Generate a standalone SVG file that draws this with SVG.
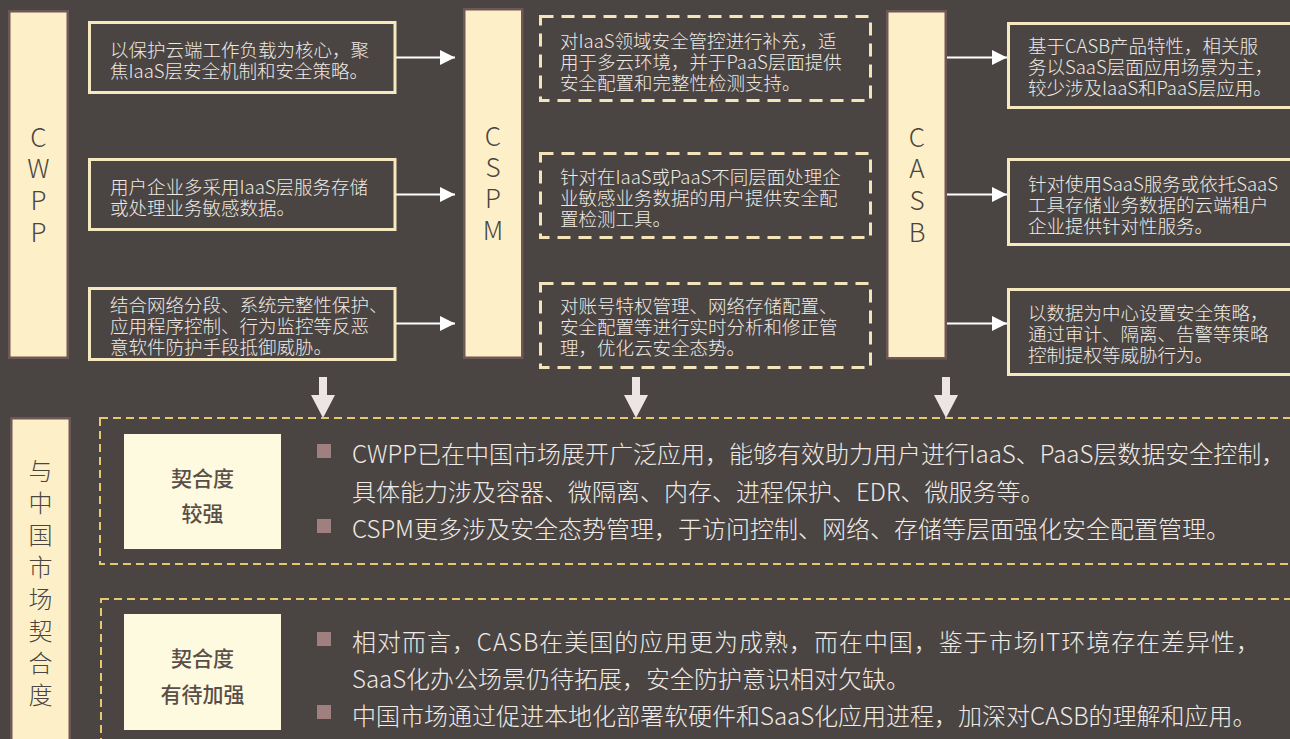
<svg xmlns="http://www.w3.org/2000/svg" width="1290" height="739" viewBox="0 0 1290 739">
<defs>
<style>
.bar{fill:#fdf0c9;stroke:#6f5757;stroke-width:2.5}
.box{fill:none;stroke:#f7e9bf;stroke-width:3}
.dbox{fill:none;stroke:#f3e5b9;stroke-width:3;stroke-dasharray:13 8}
.ybox{fill:none;stroke:#e8c86f;stroke-width:2;stroke-dasharray:8 5}
.cream{fill:#fefadf}
.t{font-family:"Noto Sans CJK SC","Noto Sans",sans-serif;font-size:18.5px;font-weight:300;fill:#efeae4;dominant-baseline:central}
.b{font-family:"Noto Sans CJK SC","Noto Sans",sans-serif;font-size:24px;font-weight:300;fill:#efeae5;dominant-baseline:central}
.v{font-family:"Noto Sans CJK SC","Noto Sans",sans-serif;font-size:26px;font-weight:300;fill:#4a4543;text-anchor:middle}
.vc{font-family:"Noto Sans CJK SC",sans-serif;font-size:24px;font-weight:300;fill:#4a4543;text-anchor:middle;dominant-baseline:central}
.k{font-family:"Noto Sans CJK SC",sans-serif;font-size:21px;font-weight:500;fill:#5a4e49;text-anchor:middle;dominant-baseline:central}
.bul{fill:#a07f7f}
.arr{stroke:#ffffff;stroke-width:2;fill:none;marker-end:url(#ah)}
.down{fill:#ede4e4}
</style>
<marker id="ah" markerUnits="userSpaceOnUse" markerWidth="16" markerHeight="16" refX="15" refY="7.5" orient="auto">
<path d="M0,0 L15,7.5 L0,15 Z" fill="#ffffff"/>
</marker>
</defs>
<rect x="0" y="0" width="1290" height="739" fill="#4a4543"/>

<g id="connectors">
<path class="arr" d="M396,57.5 H455"/>
<path class="arr" d="M396,194.5 H455"/>
<path class="arr" d="M396,323.5 H455"/>
<path class="arr" d="M947,57.5 H1007"/>
<path class="arr" d="M947,194.5 H1007"/>
<path class="arr" d="M947,323.5 H1007"/>
<polygon class="down" points="319,377 327,377 327,395 335,395 323,418 311,395 319,395"/>
<polygon class="down" points="632,377 640,377 640,395 648,395 636,418 624,395 632,395"/>
<polygon class="down" points="942,377 950,377 950,395 958,395 946,418 934,395 942,395"/>
</g>

<g id="cwpp">
<rect class="bar" x="9.25" y="11.25" width="58.5" height="346.5"/>
<text class="v"><tspan x="38.5" y="147">C</tspan><tspan x="38.5" y="178">W</tspan><tspan x="38.5" y="210">P</tspan><tspan x="38.5" y="242">P</tspan></text>
</g>
<g id="cwpp-1">
<rect class="box" x="89.5" y="22.5" width="305.5" height="70"/>
<text class="t"><tspan x="110" y="48.5">以保护云端工作负载为核心，聚</tspan><tspan x="110" y="69.5">焦IaaS层安全机制和安全策略。</tspan></text>
</g>
<g id="cwpp-2">
<rect class="box" x="89.5" y="159.5" width="305.5" height="70"/>
<text class="t"><tspan x="110" y="186">用户企业多采用IaaS层服务存储</tspan><tspan x="110" y="207">或处理业务敏感数据。</tspan></text>
</g>
<g id="cwpp-3">
<rect class="box" x="89.5" y="288.5" width="305.5" height="71"/>
<text class="t"><tspan x="110" y="304">结合网络分段、系统完整性保护、</tspan><tspan x="110" y="325">应用程序控制、行为监控等反恶</tspan><tspan x="110" y="346">意软件防护手段抵御威胁。</tspan></text>
</g>

<g id="cspm">
<rect class="bar" x="464.25" y="9.25" width="58" height="348.5"/>
<text class="v"><tspan x="493" y="146">C</tspan><tspan x="493" y="177">S</tspan><tspan x="493" y="208">P</tspan><tspan x="493" y="240">M</tspan></text>
</g>
<g id="cspm-1">
<rect class="dbox" x="540.5" y="16.5" width="330" height="84"/>
<text class="t"><tspan x="560" y="39.5">对IaaS领域安全管控进行补充，适</tspan><tspan x="560" y="60.5">用于多云环境，并于PaaS层面提供</tspan><tspan x="560" y="81.5">安全配置和完整性检测支持。</tspan></text>
</g>
<g id="cspm-2">
<rect class="dbox" x="540.5" y="153.5" width="330" height="84"/>
<text class="t"><tspan x="560" y="175.5">针对在IaaS或PaaS不同层面处理企</tspan><tspan x="560" y="196.5">业敏感业务数据的用户提供安全配</tspan><tspan x="560" y="217.5">置检测工具。</tspan></text>
</g>
<g id="cspm-3">
<rect class="dbox" x="540.5" y="283.5" width="330" height="84"/>
<text class="t"><tspan x="560" y="305">对账号特权管理、网络存储配置、</tspan><tspan x="560" y="326">安全配置等进行实时分析和修正管</tspan><tspan x="560" y="347">理，优化云安全态势。</tspan></text>
</g>

<g id="casb">
<rect class="bar" x="887.25" y="11.25" width="58.5" height="347"/>
<text class="v"><tspan x="917" y="147">C</tspan><tspan x="917" y="178">A</tspan><tspan x="917" y="210">S</tspan><tspan x="917" y="242">B</tspan></text>
</g>
<g id="casb-1">
<rect class="box" x="1008.5" y="23.5" width="300" height="84"/>
<text class="t"><tspan x="1028" y="45">基于CASB产品特性，相关服</tspan><tspan x="1028" y="66">务以SaaS层面应用场景为主，</tspan><tspan x="1028" y="87">较少涉及IaaS和PaaS层应用。</tspan></text>
</g>
<g id="casb-2">
<rect class="box" x="1008.5" y="159.5" width="300" height="85"/>
<text class="t"><tspan x="1028" y="183">针对使用SaaS服务或依托SaaS</tspan><tspan x="1028" y="204">工具存储业务数据的云端租户</tspan><tspan x="1028" y="225">企业提供针对性服务。</tspan></text>
</g>
<g id="casb-3">
<rect class="box" x="1008.5" y="289.5" width="300" height="85"/>
<text class="t"><tspan x="1028" y="312">以数据为中心设置安全策略，</tspan><tspan x="1028" y="333">通过审计、隔离、告警等策略</tspan><tspan x="1028" y="354">控制提权等威胁行为。</tspan></text>
</g>

<g id="fit">
<rect class="bar" x="11.25" y="418.25" width="58.5" height="340"/>
<text class="vc"><tspan x="40.5" y="469">与</tspan><tspan x="40.5" y="501">中</tspan><tspan x="40.5" y="533">国</tspan><tspan x="40.5" y="565">市</tspan><tspan x="40.5" y="597">场</tspan><tspan x="40.5" y="629">契</tspan><tspan x="40.5" y="661">合</tspan><tspan x="40.5" y="693">度</tspan></text>
</g>

<g id="strong">
<rect class="ybox" x="100" y="418" width="1210" height="146"/>
<rect class="cream" x="124" y="434" width="157" height="115"/>
<text class="k"><tspan x="202.5" y="477">契合度</tspan><tspan x="202.5" y="512">较强</tspan></text>
<rect class="bul" x="317" y="444" width="14" height="14"/>
<rect class="bul" x="317" y="519" width="14" height="14"/>
<text class="b" x="352" y="452">CWPP已在中国市场展开广泛应用，能够有效助力用户进行IaaS、PaaS层数据安全控制，</text>
<text class="b" x="352" y="490">具体能力涉及容器、微隔离、内存、进程保护、EDR、微服务等。</text>
<text class="b" x="352" y="527">CSPM更多涉及安全态势管理，于访问控制、网络、存储等层面强化安全配置管理。</text>
</g>

<g id="weak">
<rect class="ybox" x="101" y="599" width="1210" height="170"/>
<rect class="cream" x="124" y="614" width="157" height="116"/>
<text class="k"><tspan x="202.5" y="657">契合度</tspan><tspan x="202.5" y="693">有待加强</tspan></text>
<rect class="bul" x="317" y="632" width="14" height="14"/>
<rect class="bul" x="317" y="705" width="14" height="14"/>
<text class="b" x="352" y="640" textLength="908" lengthAdjust="spacing">相对而言，CASB在美国的应用更为成熟，而在中国，鉴于市场IT环境存在差异性，</text>
<text class="b" x="352" y="677">SaaS化办公场景仍待拓展，安全防护意识相对欠缺。</text>
<text class="b" x="352" y="714">中国市场通过促进本地化部署软硬件和SaaS化应用进程，加深对CASB的理解和应用。</text>
</g>
</svg>
